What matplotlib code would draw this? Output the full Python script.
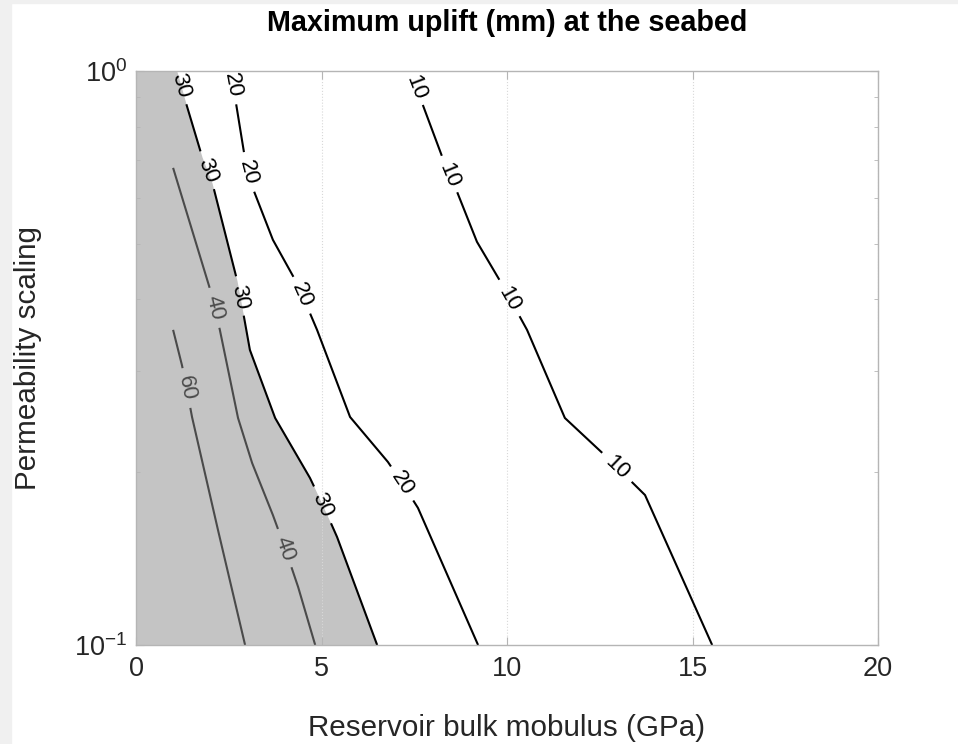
import numpy as np
import matplotlib
matplotlib.use("Agg")
import matplotlib.pyplot as plt
from matplotlib.contour import ContourSet
from matplotlib.ticker import FixedLocator, NullFormatter, LogLocator

plt.rcParams['font.family'] = ['Liberation Sans', 'DejaVu Sans']
plt.rcParams['mathtext.fontset'] = 'custom'
plt.rcParams['mathtext.rm'] = 'Liberation Sans'
plt.rcParams['mathtext.it'] = 'Liberation Sans'

# ---- data: contour lines (bulk modulus GPa, permeability scaling) ----
levels = [10, 20, 30, 40, 60]

k10 = [7.36, 8.28, 9.19, 10.54, 11.56, 13.72, 15.53]
p10 = [1.0, 0.700, 0.504, 0.354, 0.2486, 0.1825, 0.1]

k20 = [2.53, 2.67, 2.94, 3.13, 3.69, 4.29, 4.88, 5.77, 6.79, 7.60, 9.22]
p20 = [1.0, 0.897, 0.700, 0.628, 0.508, 0.432, 0.354, 0.2496, 0.2084, 0.1733, 0.1]

k30 = [1.10, 1.32, 1.78, 2.05, 2.72, 3.07, 3.75, 4.69, 5.42, 6.50]
p30 = [1.0, 0.890, 0.708, 0.638, 0.432, 0.3266, 0.2486, 0.1954, 0.1542, 0.1]

k40 = [1.0, 2.00, 2.26, 2.75, 3.13, 3.69, 4.37, 4.83]
p40 = [0.678, 0.415, 0.354, 0.2486, 0.2075, 0.1684, 0.1262, 0.1]

k60 = [1.0, 1.24, 1.51, 2.21, 2.94]
p60 = [0.354, 0.307, 0.2496, 0.1586, 0.1]

# label positions
lab_k = [7.52, 8.46, 10.16, 12.99, 2.59, 2.99, 4.50, 7.20, 1.21, 1.99, 2.80, 5.04, 2.13, 4.07, 1.40]
lab_p = [0.934, 0.659, 0.404, 0.2042, 0.945, 0.664, 0.407, 0.1915, 0.945, 0.672, 0.404, 0.1753, 0.3865, 0.1476, 0.2804]

x_ticks = [0, 5, 10, 15, 20]

fig = plt.figure(figsize=(9.58, 7.44), dpi=100)
fig.patch.set_facecolor('white')
fig.add_artist(plt.Rectangle((0, 0), 11/958, 1, transform=fig.transFigure, color='#f0f0f0', zorder=0))
fig.add_artist(plt.Rectangle((0, 1-3/744), 1, 3/744, transform=fig.transFigure, color='#f0f0f0', zorder=0))

ax = fig.add_axes([136/958, (744-645)/744, 742/958, 574/744])
ax.set_yscale('log')
ax.set_xlim(0, 20)
ax.set_ylim(0.1, 1)

ax.fill_betweenx(p30, 0, k30, color='#c4c4c4', lw=0, zorder=1)

segs = [[np.column_stack([k10, p10])],
        [np.column_stack([k20, p20])],
        [np.column_stack([k30, p30])],
        [np.column_stack([k40, p40])],
        [np.column_stack([k60, p60])]]
line_cols = ['black', 'black', 'black', '#4a4a4a', '#4a4a4a']
cs = ContourSet(ax, levels, segs, colors=line_cols, linewidths=1.5, zorder=2)
ax.set_xlim(0, 20)
ax.set_ylim(0.1, 1)

cl = ax.clabel(cs, levels, manual=list(zip(lab_k, lab_p)), inline=True,
               inline_spacing=8, fontsize=16, colors=line_cols, fmt='%d')

ax.set_axisbelow('line')
ax.xaxis.set_major_locator(FixedLocator(x_ticks))
ax.yaxis.set_major_locator(LogLocator(base=10))
ax.yaxis.set_minor_locator(LogLocator(base=10, subs=np.arange(2, 10)))
ax.yaxis.set_minor_formatter(NullFormatter())
ax.grid(True, axis='x', which='major', linestyle=':', color='#d8d8d8', linewidth=0.8)
for s in ax.spines.values():
    s.set_color('#b5b5b5')
    s.set_linewidth(1.0)
ax.tick_params(which='both', direction='in', top=True, right=True, colors='#b5b5b5',
               labelcolor='#262626', labelsize=19.5)
ax.tick_params(which='major', length=6)
ax.tick_params(which='minor', length=3)
ax.tick_params(axis='x', pad=8)
ax.tick_params(axis='y', pad=6)

ax.set_title('Maximum uplift (mm) at the seabed', fontsize=20.7, fontweight='bold', pad=29)
ax.set_xlabel('Reservoir bulk mobulus (GPa)', fontsize=21.3, color='#262626', labelpad=23)
ax.set_ylabel('Permeability scaling', fontsize=21.3, color='#262626', labelpad=23)

fig.savefig('out.png', dpi=100)
